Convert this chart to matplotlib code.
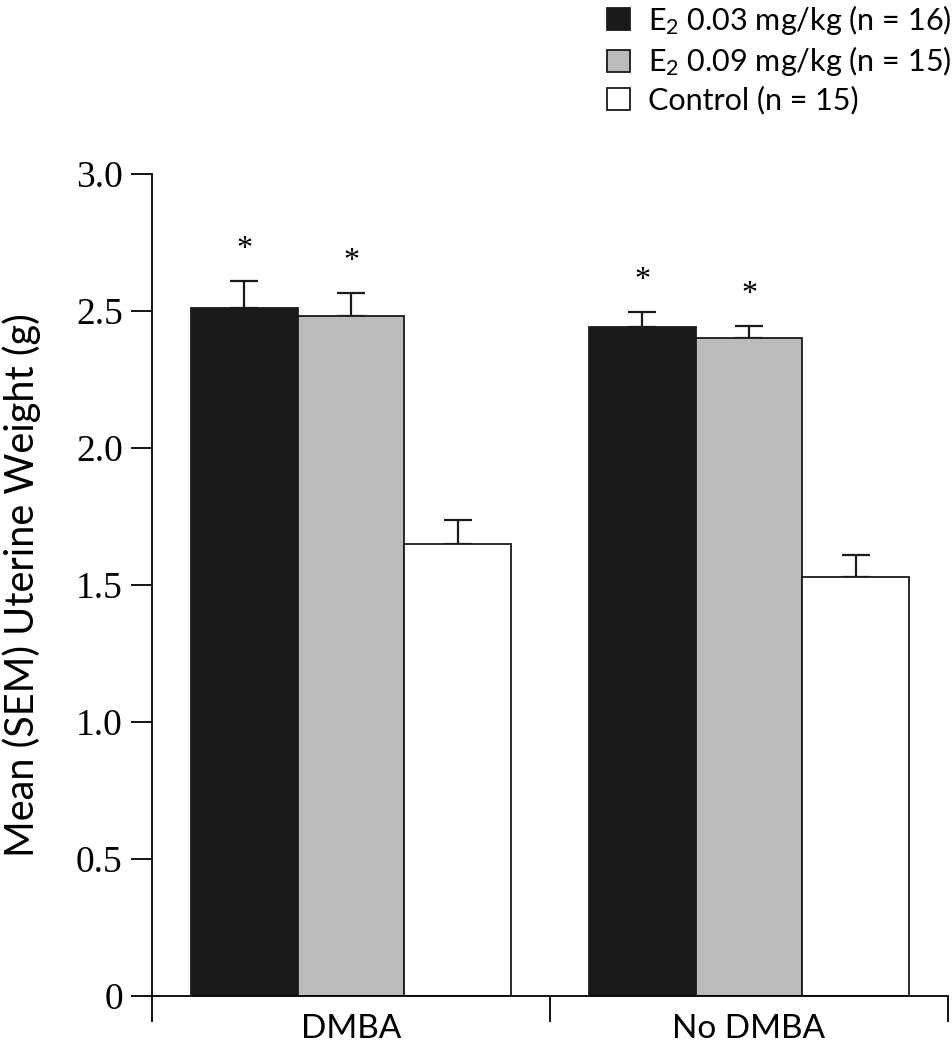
import matplotlib
matplotlib.use('Agg')
import matplotlib.pyplot as plt
import numpy as np

# Mean uterine weight (g) and SEM
groups = ['DMBA', 'No DMBA']
series = ['E$_2$ 0.03 mg/kg (n = 16)', 'E$_2$ 0.09 mg/kg (n = 15)', 'Control (n = 15)']
means_e2_low = [2.51, 2.44]
means_e2_high = [2.48, 2.40]
means_control = [1.65, 1.53]
sem_e2_low = [0.10, 0.055]
sem_e2_high = [0.085, 0.045]
sem_control = [0.088, 0.08]
significant = [[True, True], [True, True], [False, False]]
yticks = [0, 0.5, 1.0, 1.5, 2.0, 2.5, 3.0]
ytick_labels = ['0', '0.5', '1.0', '1.5', '2.0', '2.5', '3.0']

colors = ['#1a1a1a', '#bbbbbb', '#ffffff']
sans = ['Lato', 'DejaVu Sans']
serif = ['Liberation Serif', 'DejaVu Serif']

plt.rcParams.update({
    'font.family': sans,
    'mathtext.fontset': 'custom',
    'mathtext.rm': 'Lato',
    'mathtext.it': 'Lato',
})

fig = plt.figure(figsize=(9.52, 10.5), dpi=100)
ax = fig.add_axes([0.1597, 0.0514, 0.8361, 0.7829])

centers = np.array([1.0, 3.0])
width = 0.537
all_means = [means_e2_low, means_e2_high, means_control]
all_sems = [sem_e2_low, sem_e2_high, sem_control]

handles = []
for i, (m, s, c) in enumerate(zip(all_means, all_sems, colors)):
    x = centers + (i - 1) * width
    bars = ax.bar(x, m, width, color=c, edgecolor='#1a1a1a', linewidth=1.3,
                  label=series[i], zorder=2)
    ax.errorbar(x, m, yerr=[np.zeros(len(s)), s], fmt='none', ecolor='#1a1a1a',
                elinewidth=1.6, capsize=10, capthick=1.6, zorder=1)
    handles.append(bars)
    for xi, mi, si, sig in zip(x, m, s, significant[i]):
        if sig:
            ax.text(xi, mi + si + 0.115, '*', ha='center', va='center',
                    fontsize=23, family=serif)

ax.set_xlim(0, 4)
ax.set_ylim(0, 3.0)
ax.set_yticks(yticks)
ax.set_yticklabels(ytick_labels, family=serif)
ax.tick_params(axis='y', labelsize=27, direction='out', length=15, width=1.3, pad=6)
ax.set_xticks([0, 2, 4])
ax.set_xticklabels([])
ax.set_xticks(centers, minor=True)
ax.set_xticklabels(groups, minor=True)
ax.tick_params(axis='x', which='minor', length=0, pad=13, labelsize=24)
ax.tick_params(axis='x', which='major', direction='out', length=19, width=1.3)

for side in ['top', 'right']:
    ax.spines[side].set_visible(False)
ax.spines['left'].set_linewidth(1.3)
ax.spines['bottom'].set_linewidth(1.3)

ax.set_ylabel('Mean (SEM) Uterine Weight (g)', fontsize=28.5)
ax.yaxis.set_label_coords(-0.14, 0.5)

leg = fig.legend(handles=handles, labels=series, loc='upper left',
                 bbox_to_anchor=(0.625, 1.009), frameon=False, fontsize=22,
                 handlelength=0.75, handleheight=0.75, handletextpad=0.6,
                 labelspacing=0.25, borderaxespad=0)
for h in leg.legend_handles:
    h.set_linewidth(1.3)

fig.savefig('out.png', dpi=100)
